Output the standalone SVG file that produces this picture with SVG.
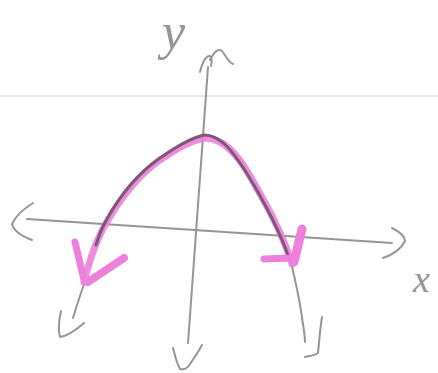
<svg xmlns="http://www.w3.org/2000/svg" width="438" height="373" viewBox="0 0 438 373">
<style>
.pencil{fill:none;stroke:#959595;stroke-width:2;stroke-linecap:round;stroke-linejoin:round}
.faint{fill:none;stroke:#e9e9e9;stroke-width:2}
.pink{fill:none;stroke:#ec80da;stroke-linecap:round;stroke-linejoin:round}
.dark{fill:none;stroke:#7c5877;stroke-width:3;stroke-linecap:round;stroke-linejoin:round}
.lbl{font-family:"Liberation Serif",serif;font-style:italic;fill:#959595}
</style>
<rect width="438" height="373" fill="#ffffff"/>
<line class="faint" x1="0" y1="96" x2="438" y2="96"/>
<!-- axes -->
<path class="pencil" d="M208,67 L188,343"/>
<path class="pencil" d="M27,219 L392,243"/>
<path class="pencil" d="M200,72 C202,63 206,55 210,56 C212,58 212,62 211,66 M210,60 C214,52 218,48 222,51 C226,56 228,62 233,64"/>
<path class="pencil" d="M173,348 C175,356 177,364 180,369 C184,370 188,368 190,364 C194,358 199,351 202,345"/>
<path class="pencil" d="M33,203 C25,208 16,215 12,224 C14,232 24,237 32,240"/>
<path class="pencil" d="M392,228 C398,231 405,235 405,241 C401,249 392,255 383,258"/>
<text class="lbl" x="162" y="49" font-size="52">y</text>
<text class="lbl" x="413" y="292" font-size="38">x</text>
<!-- parabola -->
<path class="pencil" d="M73,318 C76,308 80,295 85,282"/>
<path class="pencil" d="M291,262 C295,280 300,300 302,318 C304,330 305,337 305,342"/>
<path class="pencil" d="M61,311 C59,320 58,330 60,337 C67,336 76,330 84,323"/>
<path class="pencil" d="M322,317 C320,330 319,342 318,353 C314,356 309,356 305,357"/>
<path class="pink" stroke-width="7" opacity="0.9" d="M84,282 C90,258 98,236 108,220 C122,196 140,174 160,160 C175,150 188,141 205,138 C222,138 236,152 250,176 C266,204 282,232 292,264"/>
<path class="dark" d="M96,245 C100,232 104,224 107,219 C121,194 140,172 160,158 C175,148 188,139 204,135 C220,135 232,150 246,172 C262,198 278,226 289,258"/>
<path class="pink" stroke-width="7" d="M75,242 L84,280"/>
<path class="pink" stroke-width="8" d="M124,258 L88,282"/>
<path class="pink" stroke-width="9" d="M302,229 L294,262"/>
<path class="pink" stroke-width="7" d="M264,259 L292,258"/>
</svg>
